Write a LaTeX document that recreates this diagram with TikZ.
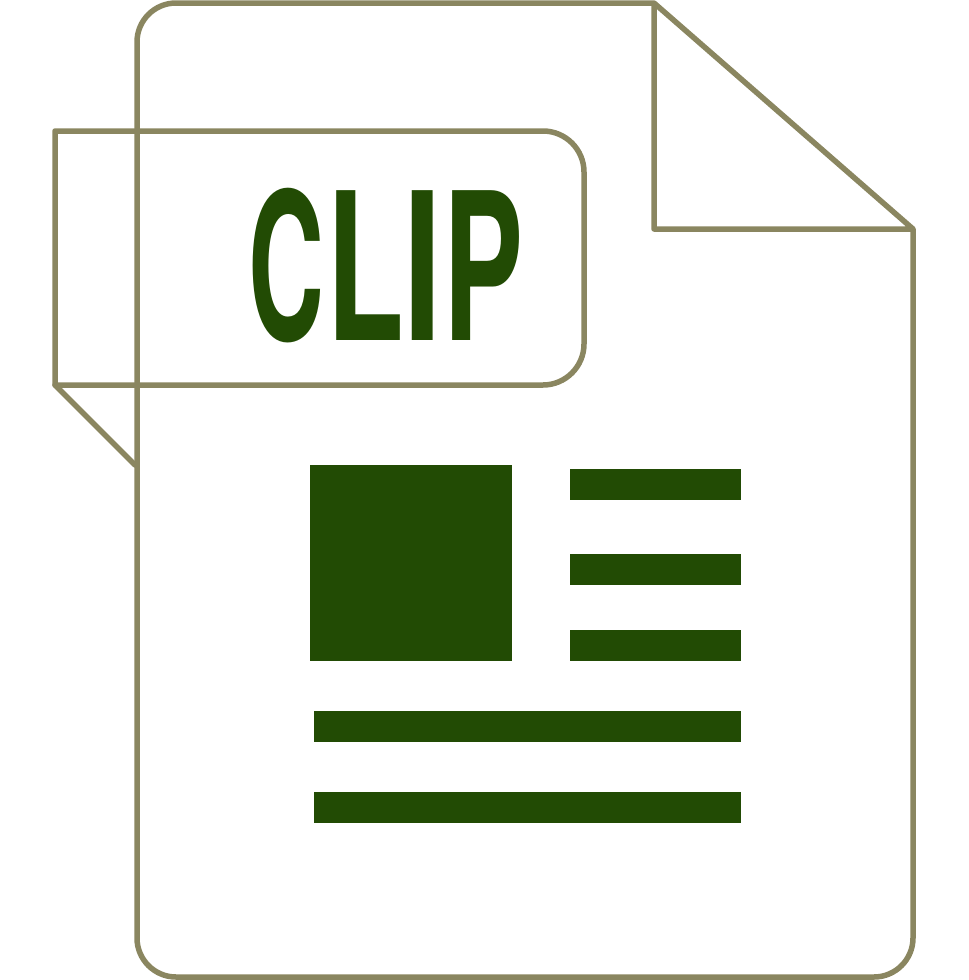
\documentclass[tikz,border=0pt]{standalone}
\usepackage{fontspec}
\setmainfont{TeX Gyre Heros}
\definecolor{outline}{HTML}{8A8660}
\definecolor{fillgreen}{HTML}{224B04}
\tikzset{
  lineart/.style={draw=outline,line width=5.5pt,line join=round,line cap=round},
  solidbar/.style={fill=fillgreen,draw=none}
}
\newcommand{\glyphx}[2]{\scalebox{#1}[2.056]{#2}}
\begin{document}
\begin{tikzpicture}[x=1pt,y=-1pt]
\useasboundingbox (0,0) rectangle (969,980);
\draw[lineart] (654,3) -- (176,3) .. controls (154.5,3) and (137,20.5) .. (137,42) -- (137,938) .. controls (137,959.5) and (154.5,977) .. (176,977) -- (874,977) .. controls (895.5,977) and (913,959.5) .. (913,938) -- (913,229) -- (654,3) -- (654,229) -- (913,229);
\draw[lineart] (55,131) -- (543,131) .. controls (565.6,131) and (584,149.4) .. (584,172) -- (584,344) .. controls (584,366.6) and (565.6,385) .. (543,385) -- (55,385) -- cycle;
\draw[lineart] (55,385) -- (135,465);
\node[text=fillgreen,inner sep=0pt,anchor=center] (title) at (386,265.5) {\fontsize{100pt}{100pt}\selectfont\bfseries\glyphx{1.052}{C}\kern2pt\glyphx{1.275}{L}\kern-1pt\glyphx{1.39}{I}\kern2pt\glyphx{1.2}{P}};
\fill[solidbar] (310,465) rectangle (512,661);
\fill[solidbar] (570,469) rectangle (741,500);
\fill[solidbar] (570,554) rectangle (741,585);
\fill[solidbar] (570,630) rectangle (741,661);
\fill[solidbar] (314,711) rectangle (741,742);
\fill[solidbar] (314,792) rectangle (741,823);
\end{tikzpicture}
\end{document}
